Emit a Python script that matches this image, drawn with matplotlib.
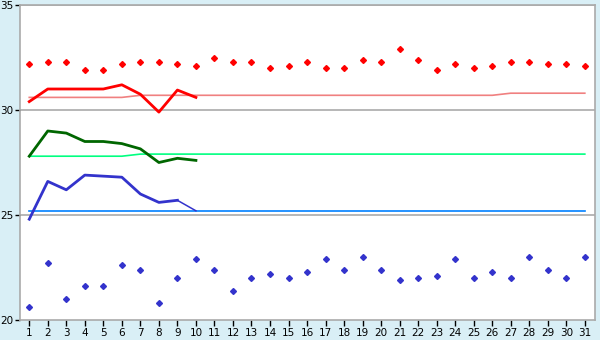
import matplotlib
matplotlib.use("Agg")
import matplotlib.pyplot as plt

days = list(range(1, 32))
red_pts = [32.2, 32.3, 32.3, 31.9, 31.9, 32.2, 32.3, 32.3, 32.2, 32.1,
           32.5, 32.3, 32.3, 32.0, 32.1, 32.3, 32.0, 32.0, 32.4, 32.3,
           32.9, 32.4, 31.9, 32.2, 32.0, 32.1, 32.3, 32.3, 32.2, 32.2, 32.1]
blue_pts = [20.6, 22.7, 21.0, 21.6, 21.6, 22.6, 22.4, 20.8, 22.0, 22.9,
            22.4, 21.4, 22.0, 22.2, 22.0, 22.3, 22.9, 22.4, 23.0, 22.4,
            21.9, 22.0, 22.1, 22.9, 22.0, 22.3, 22.0, 23.0, 22.4, 22.0, 23.0]
red_avg = [30.6]*6 + [30.7]*20 + [30.8]*5
green_avg = [27.8]*6 + [27.9]*25
blue_avg = [25.2]*31

days10 = list(range(1, 11))
red_line = [30.4, 31.0, 31.0, 31.0, 31.0, 31.2, 30.75, 29.9, 30.95, 30.6]
green_line = [27.8, 29.0, 28.9, 28.5, 28.5, 28.4, 28.15, 27.5, 27.7, 27.6]
blue_line = [24.8, 26.6, 26.2, 26.9, 26.85, 26.8, 26.0, 25.6, 25.7, 25.2]

bg = "#d9eff6"
fig = plt.figure(figsize=(6, 3.4), dpi=100, facecolor=bg)
ax = fig.add_axes([20/600, 20/340, 575/600, 315/340])
ax.set_facecolor("white")

for v in (25, 30, 35):
    ax.axhline(v, color="#aaaaaa", lw=1.2, zorder=1)

ax.plot(days, red_avg, color="#f08080", lw=1.2, zorder=2)
ax.plot(days, green_avg, color="#00ff80", lw=1.2, zorder=2)
ax.plot(days, blue_avg, color="#0080ff", lw=1.2, zorder=2)

ax.plot(days10, red_line, color="#ff0000", lw=2, zorder=3)
ax.plot(days10, green_line, color="#006600", lw=2, zorder=3)
ax.plot(days10[:9], blue_line[:9], color="#3333cc", lw=2, zorder=3)
ax.plot(days10[8:], blue_line[8:], color="#3333cc", lw=1.1, zorder=3)

ax.plot(days, red_pts, ls="none", marker="D", ms=3.0, color="#ff0000", zorder=4)
ax.plot(days, blue_pts, ls="none", marker="D", ms=3.0, color="#3333cc", zorder=4)

ax.set_xlim(0.5, 31.55)
ax.set_ylim(20, 35)
ax.set_xticks(days)
ax.set_yticks([20, 25, 30, 35])
ax.tick_params(axis="x", labelsize=7.5, length=4, width=1, color="black", pad=2)
ax.tick_params(axis="y", labelsize=7.5, length=3.5, width=1, color="black", pad=1)
for s in ax.spines.values():
    s.set_color("#aaaaaa")
    s.set_linewidth(1.2)

fig.savefig("out.png", dpi=100, facecolor=bg)
